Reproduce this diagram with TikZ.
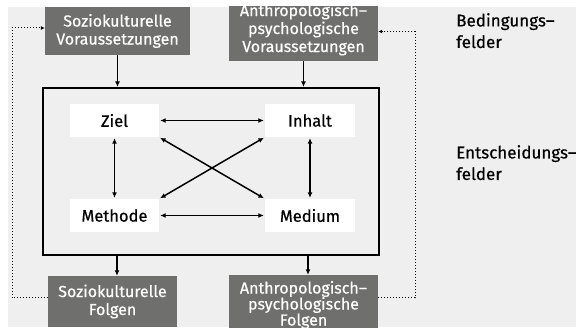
\documentclass[tikz,border=0pt]{standalone}
\usepackage{fontspec}
\setmainfont{Fira Sans}[FakeBold=0.5]
\usetikzlibrary{arrows.meta}
\definecolor{bggrey}{HTML}{EFEFEF}
\definecolor{boxgrey}{HTML}{6F6F6E}
\tikzset{
  greybox/.style={draw=none, fill=boxgrey, text=white, align=center, inner sep=0pt,
    font=\fontsize{16}{18}\selectfont},
  fieldbox/.style={draw=none, fill=white, text=black, inner sep=0pt,
    minimum width=89pt, minimum height=33pt, font=\fontsize{16.5}{19}\selectfont},
  sidelabel/.style={align=left, inner sep=0pt, anchor=north west, text=black,
    font=\fontsize{17}{21.5}\selectfont},
  arr/.style={line width=1.5pt, -{Latex[length=5.5pt,width=5pt]}},
  darr/.style={line width=1.5pt, {Latex[length=5.5pt,width=5pt]}-{Latex[length=5.5pt,width=5pt]}},
  fb/.style={line width=1pt, dotted, -{Latex[length=4pt,width=4pt]}},
}
\begin{document}
\begin{tikzpicture}[x=1pt,y=-1pt]
\useasboundingbox (0,0) rectangle (576,331);
\fill[white] (0,0) rectangle (576,331);
\fill[bggrey] (8,7) rectangle (576,327);
\begin{scope}
\clip (8,7) rectangle (576,327);
% condition boxes
\node[greybox, minimum width=145pt, minimum height=48pt] (svor) at (117.5,31)
  {Soziokulturelle\\Voraussetzungen};
\node[greybox, minimum width=149pt, minimum height=63pt] (avor) at (303.5,29.5)
  {Anthropologisch–\\psychologische\\Voraussetzungen};
% consequence boxes
\node[greybox, minimum width=129pt, minimum height=51pt] (sfol) at (112.5,301.5)
  {Soziokulturelle\\Folgen};
\node[greybox, minimum width=149pt, minimum height=60pt,
  font=\fontsize{16}{16}\selectfont] (afol) at (303.5,305)
  {Anthropologisch–\\psychologische\\Folgen};
% frame
\node[draw=black, line width=2.2pt, minimum width=336pt, minimum height=167pt, inner sep=0pt] (frame) at (211,171.5) {};
% decision fields
\node[fieldbox] (ziel) at (114.5,120.5) {Ziel};
\node[fieldbox] (methode) at (114.5,215.5) {Methode};
\node[fieldbox, minimum width=90pt] (inhalt) at (310,120.5) {Inhalt};
\node[fieldbox, minimum width=90pt] (medium) at (310,215.5) {Medium};
% arrows between fields
\draw[darr, shorten <=1pt, shorten >=1pt] (ziel.east) -- (inhalt.west);
\draw[darr, shorten <=1pt, shorten >=1pt] (methode.east) -- (medium.west);
\draw[darr, shorten <=1pt, shorten >=1pt] (ziel.south) -- (methode.north);
\draw[darr, shorten <=1pt, shorten >=1pt] (inhalt.south) -- (medium.north);
\draw[darr, shorten <=1pt, shorten >=1pt] (ziel.south east) -- (medium.north west);
\draw[darr, shorten <=1pt, shorten >=1pt] (methode.north east) -- (inhalt.south west);
% vertical arrows
\coordinate (a1) at (svor.south);
\coordinate (a2) at (avor.south);
\coordinate (b1) at ([xshift=4.5pt]sfol.north);
\coordinate (b2) at ([xshift=4.5pt]afol.north);
\draw[arr] (a1) -- (a1 |- frame.north);
\draw[arr] (a2) -- (a2 |- frame.north);
\draw[arr] (b1 |- frame.south) -- (b1);
\draw[arr] (b2 |- frame.south) -- (b2);
% feedback dotted lines
\coordinate (lc) at (12,160);
\coordinate (rc) at (415,160);
\draw[fb] ([yshift=3.5pt]sfol.west) -| (lc) |- ([yshift=3pt]svor.west);
\draw[fb] ([yshift=7pt]afol.east) -| (rc) |- ([yshift=-2pt]avor.east);
\end{scope}
% side labels
\node[sidelabel] (bed) at (456,13) {Bedingungs–\\felder};
\node[sidelabel] (ent) at (456,145) {Entscheidungs–\\felder};
\end{tikzpicture}
\end{document}
